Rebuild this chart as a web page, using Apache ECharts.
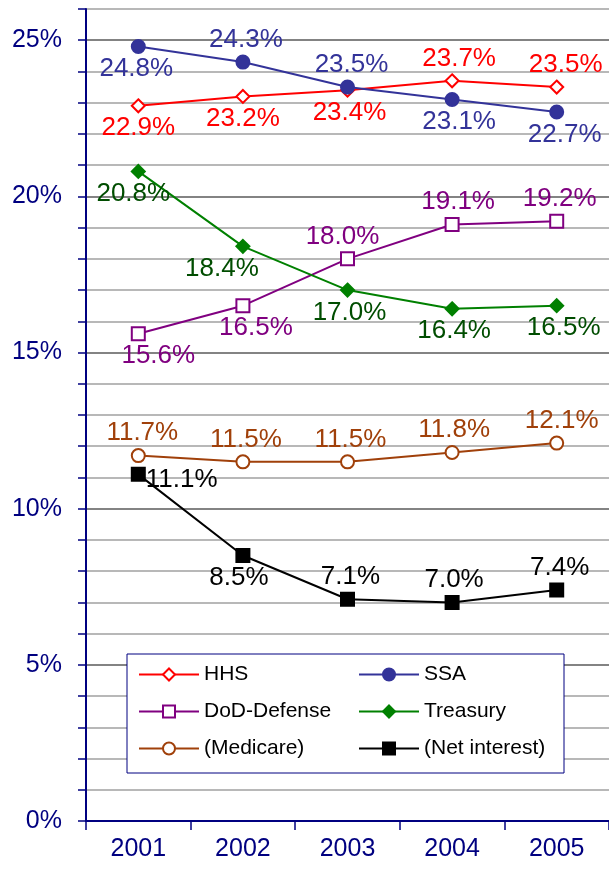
<!DOCTYPE html>
<html>
<head>
<meta charset="utf-8">
<script src="https://cdn.jsdelivr.net/npm/echarts@6/dist/echarts.min.js"></script>
<style>
  html, body { margin: 0; padding: 0; background: #fff; }
  #main { width: 609px; height: 873px; }
</style>
</head>
<body>
<div id="main"></div>
<script>
// values (percent)
var years = ['2001', '2002', '2003', '2004', '2005'];
var hhs = [22.9, 23.2, 23.4, 23.7, 23.5];
var ssa = [24.8, 24.3, 23.5, 23.1, 22.7];
var dod = [15.6, 16.5, 18.0, 19.1, 19.2];
var treasury = [20.8, 18.4, 17.0, 16.4, 16.5];
var medicare = [11.7, 11.5, 11.5, 11.8, 12.1];
var netInterest = [11.1, 8.5, 7.1, 7.0, 7.4];

// where each value label sits
var hhsPos = ['bottom', 'bottom', 'bottom', 'top', 'top'];
var ssaPos = ['bottom', 'top', 'top', 'bottom', 'bottom'];
var dodPos = ['bottom', 'bottom', 'top', 'top', 'top'];
var treasuryPos = ['bottom', 'bottom', 'bottom', 'bottom', 'bottom'];
var medicarePos = ['top', 'top', 'top', 'top', 'top'];
var netPos = ['right', 'bottom', 'top', 'top', 'top'];

var FONT = 'Liberation Sans, Arial, sans-serif';
var NAVY = '#000080';

function pts(vals, pos, shift) {
    return vals.map(function (v, i) {
        var off = [shift ? shift[i] : 0, 0];
        if (pos[i] === 'right') off = [-2, 5];
        return {
            value: v,
            label: { position: pos[i], offset: off }
        };
    });
}

function line(name, vals, pos, color, labelColor, symbol, hollow, shift) {
    return {
        name: name,
        type: 'line',
        data: pts(vals, pos, shift),
        symbol: symbol,
        symbolSize: 13,
        lineStyle: { color: color, width: 2 },
        itemStyle: {
            color: hollow ? '#ffffff' : color,
            borderColor: color,
            borderWidth: 2
        },
        label: {
            show: true,
            distance: 2,
            color: labelColor,
            fontSize: 26,
            fontFamily: FONT,
            formatter: function (p) { return p.value.toFixed(1) + '%'; }
        },
        emphasis: { disabled: true },
        animation: false
    };
}

var myChart = echarts.init(document.getElementById('main'));

var option = {
    backgroundColor: '#ffffff',
    animation: false,
    grid: { left: 86, right: -3, top: 9, bottom: 52 },
    xAxis: {
        type: 'category',
        data: years,
        boundaryGap: true,
        axisLine: { lineStyle: { color: NAVY, width: 2 } },
        axisTick: { show: true, length: 9, lineStyle: { color: NAVY, width: 1.5 } },
        axisLabel: { color: NAVY, fontSize: 25, fontFamily: FONT, margin: 16 },
        splitLine: { show: false }
    },
    yAxis: {
        type: 'value',
        min: 0,
        max: 26,
        interval: 1,
        axisLine: { show: true, lineStyle: { color: NAVY, width: 2 } },
        axisTick: { show: true, length: 8, lineStyle: { color: NAVY, width: 1.5 } },
        axisLabel: {
            color: NAVY,
            fontSize: 25,
            fontFamily: FONT,
            margin: 24,
            formatter: function (v) { return v % 5 === 0 ? v + '%' : ''; }
        },
        splitLine: {
            show: true,
            lineStyle: { color: ['#5a5a5a', '#a0a0a0', '#a0a0a0', '#a0a0a0', '#a0a0a0'], width: 1.5 }
        }
    },
    graphic: [{
        type: 'rect',
        z: 3,
        shape: { x: 127, y: 654, width: 437, height: 119 },
        style: { fill: '#ffffff', stroke: NAVY, lineWidth: 1 }
    }],
    legend: [{
        orient: 'vertical',
        left: 133,
        top: 659,
        z: 5,
        itemWidth: 60,
        itemHeight: 15,
        itemGap: 16,
        data: ['HHS', 'DoD-Defense', '(Medicare)'],
        textStyle: { color: '#000', fontSize: 21, fontFamily: FONT }
    }, {
        orient: 'vertical',
        left: 353,
        top: 659,
        z: 5,
        itemWidth: 60,
        itemHeight: 15,
        itemGap: 16,
        data: ['SSA', 'Treasury', '(Net interest)'],
        textStyle: { color: '#000', fontSize: 21, fontFamily: FONT }
    }],
    series: [
        line('HHS', hhs, hhsPos, '#ff0000', '#ff0000', 'diamond', true, [0, 0, 2, 7, 9]),
        line('SSA', ssa, ssaPos, '#333399', '#333399', 'circle', false, [-2, 3, 4, 7, 8]),
        line('DoD-Defense', dod, dodPos, '#800080', '#800080', 'rect', true, [20, 13, -5, 6, 3]),
        line('Treasury', treasury, treasuryPos, '#008000', '#004d00', 'diamond', false, [-5, -21, 2, 2, 7]),
        line('(Medicare)', medicare, medicarePos, '#a0400a', '#a0400a', 'circle', true, [4, 3, 3, 2, 5]),
        line('(Net interest)', netInterest, netPos, '#000000', '#000000', 'rect', false, [0, -4, 3, 2, 3])
    ]
};

myChart.setOption(option);
</script>
</body>
</html>
